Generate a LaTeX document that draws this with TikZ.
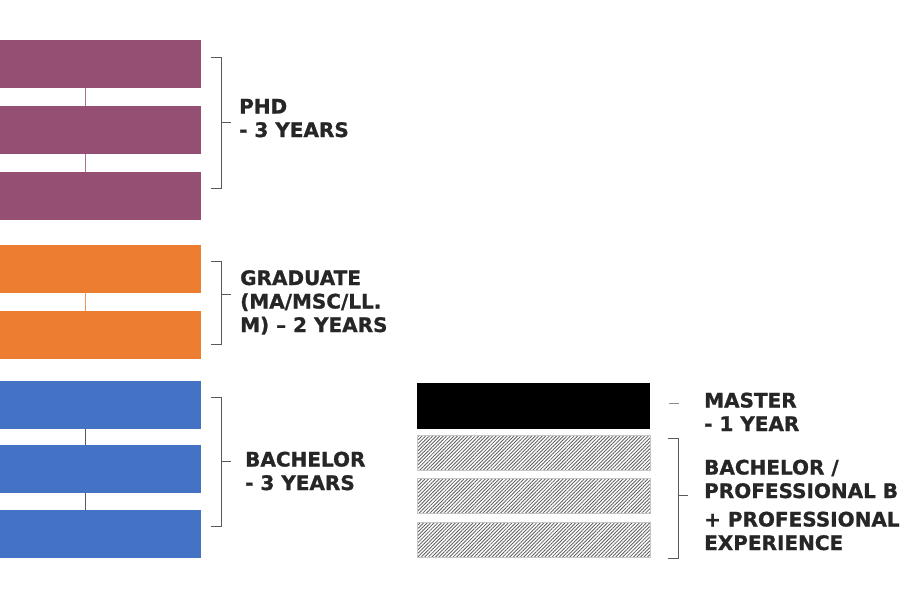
\documentclass[tikz,border=0pt]{standalone}
\usepackage{fontspec}
\setmainfont{DejaVu Sans}[BoldFeatures={FakeBold=1}]
\usetikzlibrary{patterns.meta}

\definecolor{phdcol}{HTML}{954F72}
\definecolor{gradcol}{HTML}{ED7D31}
\definecolor{bachcol}{HTML}{4472C4}
\definecolor{txtcol}{HTML}{262626}
\definecolor{brkcol}{HTML}{595959}

\begin{document}
\begin{tikzpicture}[x=1pt, y=-1pt,
  bar/.style={draw=none, inner sep=0pt, anchor=north west,
    minimum width=232pt, minimum height=48pt},
  hatchbar/.style={draw=gray!45, line width=0.6pt, inner sep=0pt, anchor=north west,
    minimum width=233pt, minimum height=35pt,
    pattern={Lines[angle=45, distance=2.5pt, line width=0.85pt]}, pattern color=black!62},
  lbl/.style={anchor=base west, inner sep=0pt, align=left, text=txtcol,
    font=\fontsize{20}{23.5}\selectfont\bfseries},
  brk/.style={draw=brkcol, line width=0.9pt},
  link/.style={line width=1pt}]

  \useasboundingbox (0,0) rectangle (900,600);
  \clip (0,0) rectangle (900,600);

  % --- 1. PhD (3 years) ---
  \node[bar, fill=phdcol] (phd1) at (-31,40) {};
  \node[bar, fill=phdcol] (phd2) at (-31,106) {};
  \node[bar, fill=phdcol] (phd3) at (-31,172) {};
  \draw[link, phdcol!80] (phd1.south) -- (phd2.north);
  \draw[link, phdcol!80] (phd2.south) -- (phd3.north);

  \draw[brk] (211,57) -- (221,57) -- (221,188) -- (211,188)
    (221,122) -- (231,122);
  % base anchor = last line
  \node[lbl] (phdlbl) at (239,137) {PHD\\- 3 YEARS};

  % --- 2. Graduate (2 years) ---
  \node[bar, fill=gradcol] (grad1) at (-31,245) {};
  \node[bar, fill=gradcol] (grad2) at (-31,311) {};
  \draw[link, gradcol!80] (grad1.south) -- (grad2.north);

  \draw[brk] (211,261) -- (221,261) -- (221,344) -- (211,344)
    (221,294) -- (231,294);
  \node[lbl] (gradlbl) at (240,332) {GRADUATE\\(MA/MSC/LL.\\M) – 2 YEARS};

  % --- 3. Bachelor (3 years) ---
  \node[bar, fill=bachcol] (bach1) at (-31,381) {};
  \node[bar, fill=bachcol] (bach2) at (-31,445) {};
  \node[bar, fill=bachcol] (bach3) at (-31,510) {};
  \draw[link, brkcol] (bach1.south) -- (bach2.north);
  \draw[link, brkcol] (bach2.south) -- (bach3.north);

  \draw[brk] (211,397) -- (221,397) -- (221,526) -- (211,526)
    (221,461) -- (231,461);
  \node[lbl] (bachlbl) at (245,490) {BACHELOR\\- 3 YEARS};

  % --- 4. Master (1 year) + hatched bars ---
  \node[bar, fill=black, minimum width=233pt, minimum height=46pt] (mast) at (417,383) {};
  \node[hatchbar] (prev1) at (417,435) {};
  \node[hatchbar] (prev2) at (417,478) {};
  \node[hatchbar] (prev3) at (417,522) {};

  \draw[brk, brkcol!70] (669,403) -- (679,403);
  \node[lbl] (mastlbl) at (704,431) {MASTER\\- 1 YEAR};

  \draw[brk] (668,438) -- (678,438) -- (678,558) -- (668,558)
    (678,495) -- (688,495);
  \node[lbl] (prevlbl) at (704,550) {BACHELOR /\\PROFESSIONAL B\\[5pt]+ PROFESSIONAL\\EXPERIENCE};

\end{tikzpicture}
\end{document}
